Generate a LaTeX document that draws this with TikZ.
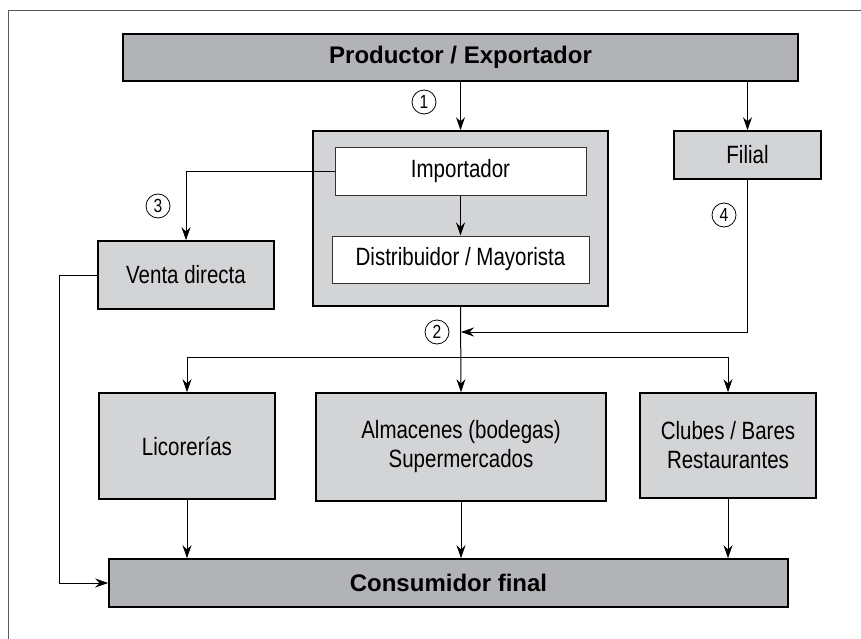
\documentclass[tikz,border=0pt]{standalone}
\usepackage{fontspec}
\setmainfont{Liberation Sans}
\newfontfamily\condfont[FakeStretch=0.82]{Liberation Sans}
\usepackage{tikz}
\usetikzlibrary{shapes,arrows.meta,positioning}
\definecolor{darkfill}{RGB}{177,179,182}
\definecolor{lightfill}{RGB}{211,212,214}
\tikzstyle{darkblock} = [rectangle, draw, line width = 1.6pt, fill = darkfill, inner sep = 0pt, minimum height = 47pt, font = \fontsize{24}{29}\selectfont\bfseries]
\tikzstyle{block} = [rectangle, draw, line width = 1.6pt, fill = lightfill, inner sep = 0pt, align = center, font = \condfont\fontsize{25}{29}\selectfont]
\tikzstyle{innerblock} = [rectangle, draw = black!80, line width = 1pt, fill = white, inner sep = 0pt, minimum height = 47pt, font = \condfont\fontsize{25}{29}\selectfont]
\tikzstyle{circled} = [circle, draw, line width = 0.8pt, minimum size = 24pt, inner sep = 0pt, font = \condfont\fontsize{19}{19}\selectfont]
\tikzstyle{flow} = [draw, line width = 1pt, -{Stealth[length = 13pt, width = 9pt]}]

\begin{document}
\begin{tikzpicture}[x = 1pt, y = -1pt]
\useasboundingbox (0,0) rectangle (861,639);
\draw [black!65, line width = 0.8pt] (8,639) -- (8,10) -- (861,10);

% top and bottom
\node [darkblock, minimum width = 675pt] (prod) at (460.5,57.5) {Productor / Exportador};
\node [darkblock, minimum width = 679pt, minimum height = 48pt] (cons) at (448.5,583) {Consumidor final};

% importer group
\node [block, minimum width = 295pt, minimum height = 175pt] (group) at (460.5,218.5) {};
\node [innerblock, minimum width = 251pt] (imp) at (460.5,171.5) {Importador};
\node [innerblock, minimum width = 257pt, below = 40pt of imp] (dist) {Distribuidor / Mayorista};

\node [block, minimum width = 147pt, minimum height = 48pt] (filial) at (747.5,155) {Filial};
\node [block, minimum width = 176pt, minimum height = 68pt] (venta) at (186,275) {Venta directa};

% retail
\node [block, minimum width = 176pt, minimum height = 106pt] (lic) at (187,446) {Licorerías};
\node [block, minimum width = 290pt, minimum height = 108pt] (alm) at (461,447) {Almacenes (bodegas)\\Supermercados};
\node [block, minimum width = 176pt, minimum height = 105pt] (clubs) at (728,445.5) {Clubes / Bares\\Restaurantes};

\node [circled] (n1) at (424,102) {1};
\node [circled] (n2) at (437,332) {2};
\node [circled] (n3) at (158,206) {3};
\node [circled] (n4) at (724,215) {4};

\coordinate (join) at (461,332);
\coordinate (split) at (461,357);

\path [flow] (prod.south -| group.north) -- (group.north);
\path [flow] (prod.south -| filial.north) -- (filial.north);
\path [flow] (imp) -- (dist);
\path [flow] (imp.west) -| (venta.north);
\path [flow] (venta.west) -- ++(-38,0) |- (cons.west);
\path [flow] (filial.south) |- (join);
\path [flow] (group.south) -- (alm.north);
\path [flow] (split) -| (lic.north);
\path [flow] (split) -| (clubs.north);
\path [flow] (lic.south) -- (lic.south |- cons.north);
\path [flow] (alm.south) -- (alm.south |- cons.north);
\path [flow] (clubs.south) -- (clubs.south |- cons.north);
\end{tikzpicture}
\end{document}
